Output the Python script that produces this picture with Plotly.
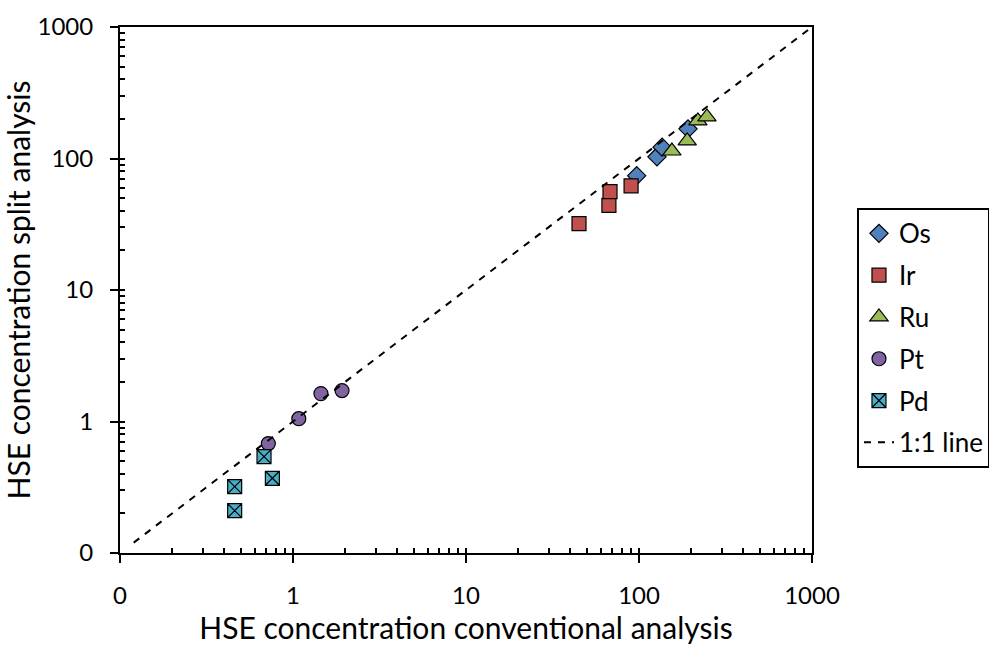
import plotly.graph_objects as go

# Data (conventional, split)
os_x = [97, 127, 136, 192]
os_y = [74, 103, 122, 168]
ir_x = [45, 67, 68, 90]
ir_y = [32, 44, 56, 62]
ru_x = [155, 190, 219, 247]
ru_y = [114, 136, 193, 207]
pt_x = [0.72, 1.08, 1.45, 1.92]
pt_y = [0.68, 1.05, 1.63, 1.72]
pd_x = [0.68, 0.76, 0.46, 0.46]
pd_y = [0.54, 0.37, 0.32, 0.21]
line_x = [0.12, 1000]
line_y = [0.12, 1000]

major_vals = [0.1, 1, 10, 100, 1000]
major_text = ["0", "1", "10", "100", "1000"]
minor_vals = [m * d for d in [0.1, 1, 10, 100] for m in range(2, 10)]

FONT = "Lato"
fig = go.Figure()

def add(name, x, y, symbol, color, size, group):
    fig.add_trace(go.Scatter(
        x=x, y=y, mode="markers", name=name, legendgroup=group,
        marker=dict(symbol=symbol, color=color, size=size,
                    line=dict(color="black", width=1.2))))

add("Os", os_x, os_y, "diamond", "#4F81BD", 14, "a")
add("Ir", ir_x, ir_y, "square", "#C0504D", 14, "b")
add("Ru", ru_x, ru_y, "triangle-up", "#9BBB59", 16, "c")
add("Pt", pt_x, pt_y, "circle", "#8064A2", 14, "d")
add("Pd", pd_x, pd_y, "square-x", "#4BACC6", 14, "e")
fig.add_trace(go.Scatter(x=line_x, y=line_y, mode="lines", name="1:1 line",
                         legendgroup="f",
                         line=dict(color="black", width=2, dash="7px,7px")))
# invisible trace for overlay axes (inside half of crossing major ticks)
fig.add_trace(go.Scatter(x=[1], y=[1], xaxis="x2", yaxis="y2", mode="markers",
                         marker=dict(opacity=0), showlegend=False, hoverinfo="skip"))

axis_common = dict(
    type="log", range=[-1, 3], showgrid=False, zeroline=False,
    showline=True, linecolor="black", linewidth=2, mirror=True,
    tickmode="array", tickvals=major_vals, ticktext=major_text,
    ticks="outside", ticklen=8, tickwidth=2, tickcolor="black",
    ticklabelstandoff=12, automargin=False,
    tickfont=dict(family=FONT, size=24, color="black"),
    minor=dict(tickmode="array", tickvals=minor_vals, ticks="inside",
               ticklen=5, tickwidth=1.5, tickcolor="black", showgrid=False),
)

fig.update_layout(
    width=989, height=646,
    margin=dict(l=120, r=177, t=27, b=93, autoexpand=False),
    paper_bgcolor="white", plot_bgcolor="white",
    font=dict(family=FONT, color="black"),
    xaxis=dict(**axis_common,
               title=dict(text="HSE concentration conventional analysis",
                          font=dict(family=FONT, size=30), standoff=10)),
    yaxis=dict(**axis_common,
               title=dict(text="HSE concentration split analysis",
                          font=dict(family=FONT, size=30), standoff=8)),
    xaxis2=dict(type="log", range=[-1, 3], overlaying="x", anchor="y2",
                showgrid=False, zeroline=False, showline=False,
                tickmode="array", tickvals=major_vals, showticklabels=False,
                ticks="inside", ticklen=5, tickwidth=2, tickcolor="black"),
    yaxis2=dict(type="log", range=[-1, 3], overlaying="y", anchor="x2",
                showgrid=False, zeroline=False, showline=False,
                tickmode="array", tickvals=major_vals, showticklabels=False,
                ticks="inside", ticklen=5, tickwidth=2, tickcolor="black"),
    legend=dict(x=1.065, y=0.656, xanchor="left", yanchor="top",
                bordercolor="black", borderwidth=2, bgcolor="white",
                font=dict(family=FONT, size=26, color="black"),
                traceorder="grouped", tracegroupgap=5,
                itemwidth=30),
    showlegend=True,
)

fig.write_html("out.html")
